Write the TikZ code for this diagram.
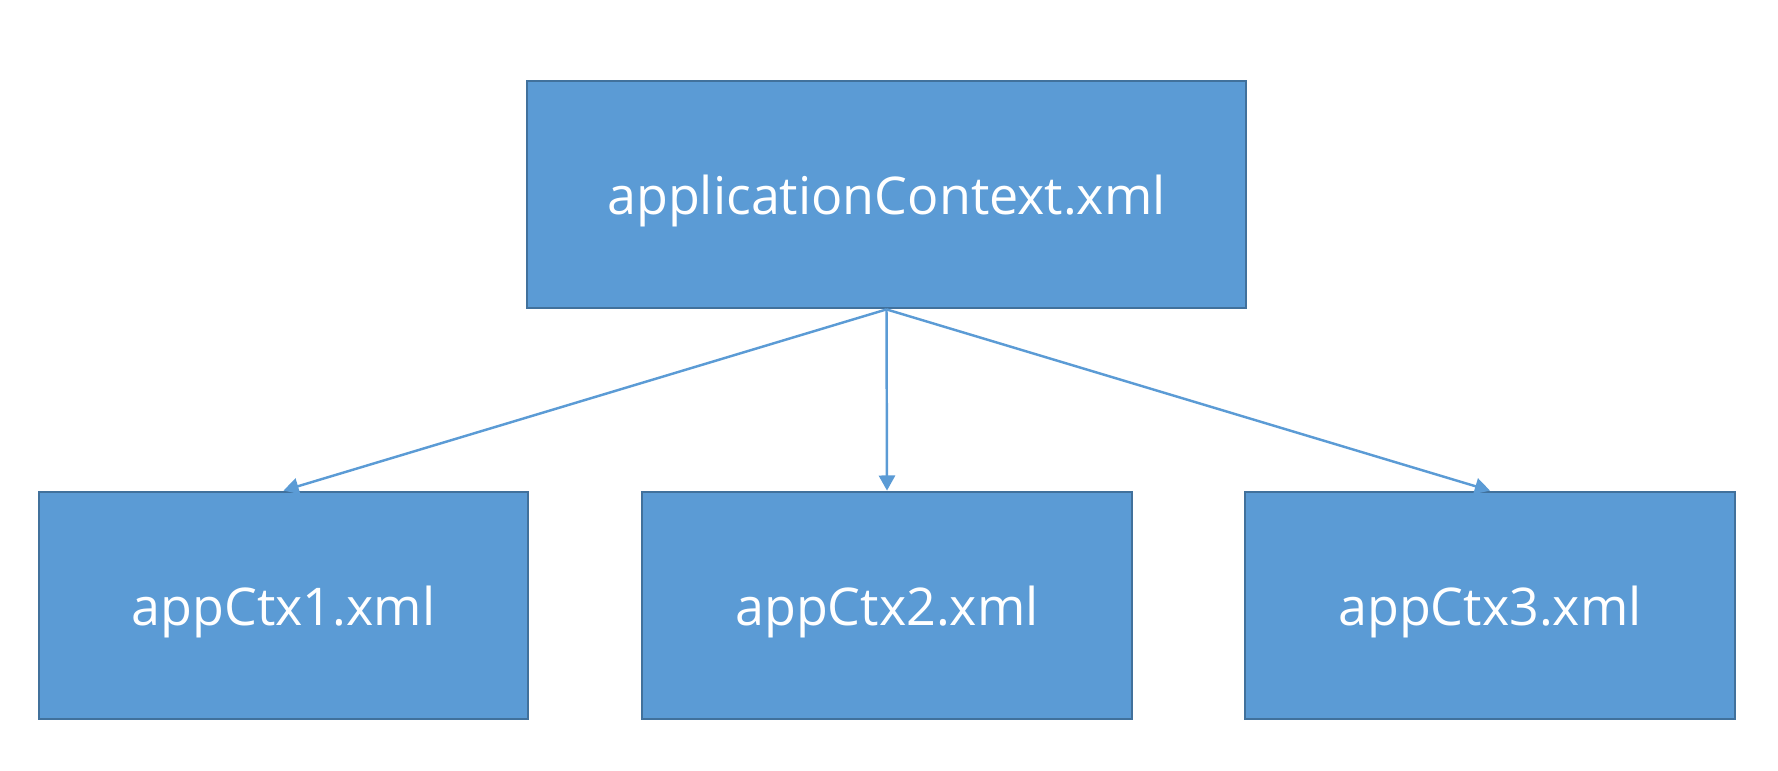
\documentclass[tikz,border=0pt]{standalone}
\usepackage{fontspec}
\setmainfont{Open Sans}
\usetikzlibrary{arrows.meta}
\definecolor{boxfill}{HTML}{5B9BD5}
\definecolor{boxline}{HTML}{41719C}

\begin{document}
\begin{tikzpicture}[
    ctxbox/.style={draw=boxline, line width=0.8pt, fill=boxfill, text=white, minimum height=2.27cm, inner sep=0pt,
      font=\fontsize{14.8}{18}\selectfont, text height=15pt, text depth=3.5pt},
    link/.style={draw=boxfill, line width=0.7pt, -{Triangle[length=4.3pt, width=4.6pt]}}
  ]
            \useasboundingbox (0,0) rectangle (17.78,7.70);
            \node[ctxbox, minimum width=7.19cm] (root) at (8.865,5.755) {applicationContext.xml};
            \node[ctxbox, minimum width=4.89cm] (ctx1) at (2.835,1.645) {appCtx1.xml};
            \node[ctxbox, minimum width=4.90cm] (ctx2) at (8.87,1.645) {appCtx2.xml};
            \node[ctxbox, minimum width=4.90cm] (ctx3) at (14.90,1.645) {appCtx3.xml};
            \draw[link] (root.south) -- (ctx1.north);
            \draw[link] (root.south) -- (ctx2.north);
            \draw[link] (root.south) -- (ctx3.north);
        \end{tikzpicture}
\end{document}
